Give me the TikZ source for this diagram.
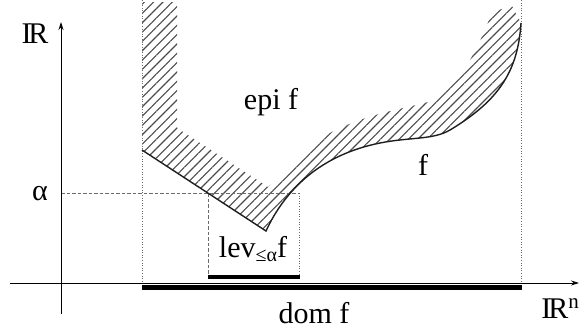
\documentclass[tikz,border=0pt]{standalone}
\usepackage{fontspec}
\setmainfont{Liberation Serif}
\usetikzlibrary{arrows.meta, patterns.meta}
\definecolor{cline}{HTML}{1E1E1E}
\definecolor{chatch}{HTML}{4A4A4A}
\definecolor{cguide}{HTML}{6B6B6B}
\tikzset{
  every picture/.style={line width=0.8pt},
  axis/.style={-{Stealth[length=8pt, width=5pt]}, draw=black, line width=0.8pt},
  graph/.style={draw=cline, line width=1.4pt},
  guide/.style={draw=cguide, line width=0.7pt, dash pattern=on 1pt off 1.6pt},
  levguide/.style={draw=cguide, line width=0.8pt, dash pattern=on 3.5pt off 2pt},
  bar/.style={draw=black, line width=#1},
  hatch/.style={pattern={Lines[angle=45, distance=6.6pt, line width=1.1pt]}, pattern color=chatch},
  lbl/.style={font=\fontsize{30}{36}\selectfont, inner sep=0pt},
}

\begin{document}
\begin{tikzpicture}[x=1pt, y=-1pt]
  \useasboundingbox (0,0) rectangle (579,333);
  \coordinate (o) at (61,283);
  \coordinate (ytop) at (61,22);
  \coordinate (ybot) at (61,314);
  \coordinate (xleft) at (10,283);
  \coordinate (xright) at (579,283);
  \coordinate (fl) at (142,150);
  \coordinate (fmin) at (266,231);
  \coordinate (fr) at (521,23);
  \coordinate (la) at (208,193);
  \coordinate (ra) at (299,193);
  \fill[hatch] (142,2) -- (177,2) -- (177,128) -- (268,187) -- (330,133)
    .. controls (370,112) and (410,108) .. (435,100)
    .. controls (460,85) and (480,45) .. (492,12) -- (512,6) -- (fr)
    .. controls (518,70) and (500,100) .. (450,130)
    .. controls (433,140) and (410,137) .. (380,143)
    .. controls (320,155) and (285,190) .. (fmin) -- (fl) -- cycle;
  \draw[guide] (142,0) -- (142,283);
  \draw[guide] (fr |- 0,0) -- (fr |- o);
  \draw[levguide] (61,193) -- (la) -- (ra);
  \draw[levguide] (la) -- (208,277);
  \draw[guide] (ra) -- (299,277);
  \draw[graph] (fl) -- (fmin)
    .. controls (285,190) and (320,155) .. (380,143)
    .. controls (410,137) and (433,140) .. (450,130)
    .. controls (500,100) and (518,70) .. (fr);
  \draw[axis] (xleft) -- (xright);
  \draw[axis] (ybot) -- (ytop);
  \draw[bar=5pt] (142,287.5) -- (522,287.5);
  \draw[bar=4pt] (208,277) -- (300,277);
  \node[lbl, anchor=base] (reals) at (35,43) {I\kern-.1em R};
  \node[lbl, anchor=base] (alpha) at (40,200) {α};
  \node[lbl, anchor=base] (epi) at (271,109) {epi f};
  \node[lbl, anchor=base] (lev) at (253,257) {lev\raisebox{-.35ex}{\fontsize{20}{20}\selectfont ≤α}f};
  \node[lbl, anchor=base] (flab) at (423,175) {f};
  \node[lbl, anchor=base] (dom) at (314,323) {dom f};
  \node[lbl, anchor=base west] (realsn) at (541,318) {I\kern-.1em R\textsuperscript{n}};
\end{tikzpicture}
\end{document}
